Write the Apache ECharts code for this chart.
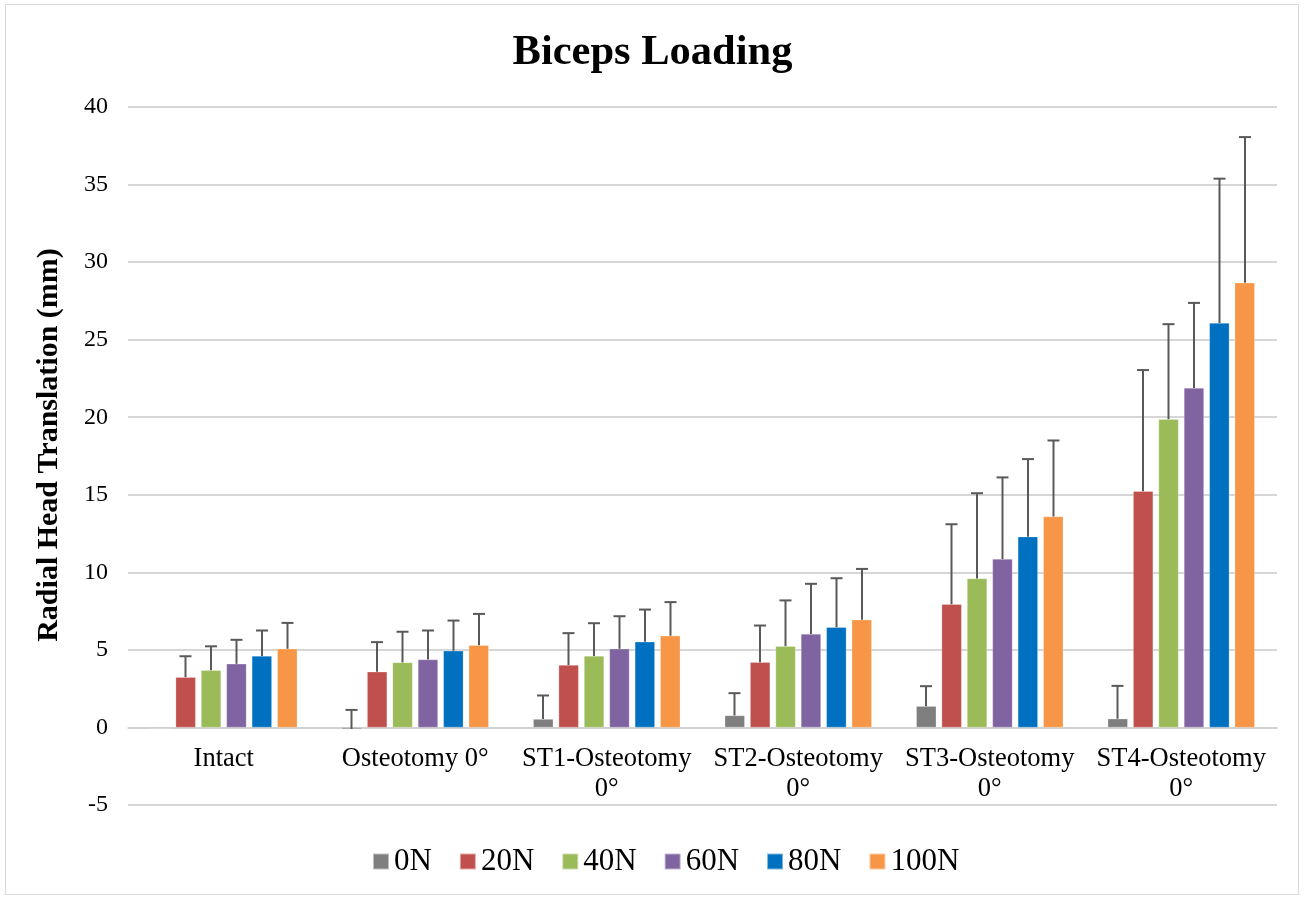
<!DOCTYPE html>
<html>
<head>
<meta charset="utf-8">
<script src="https://cdn.jsdelivr.net/npm/echarts@6/dist/echarts.min.js"></script>
<style>
  html, body { margin: 0; padding: 0; background: #fff; }
  #frame { position: absolute; left: 5px; top: 4px; width: 1294px; height: 891px; border: 1px solid #d9d9d9; box-sizing: border-box; }
  #chart { width: 1305px; height: 899px; }
</style>
</head>
<body>
<div id="frame"></div>
<div id="chart"></div>
<script>
// categories and loads
const categories = ['Intact', 'Osteotomy 0°', 'ST1-Osteotomy\n0°', 'ST2-Osteotomy\n0°', 'ST3-Osteotomy\n0°', 'ST4-Osteotomy\n0°'];
const loads = ['0N', '20N', '40N', '60N', '80N', '100N'];
const colors = ['#7F7F7F', '#C0504D', '#9BBB59', '#8064A2', '#0070C0', '#F79646'];

// mean translation (mm), one array per load
const mean0N   = [-0.05, -0.10, 0.54, 0.77, 1.37, 0.56];
const mean20N  = [3.24, 3.59, 4.02, 4.21, 7.94, 15.23];
const mean40N  = [3.68, 4.19, 4.61, 5.24, 9.60, 19.87];
const mean60N  = [4.10, 4.38, 5.07, 6.03, 10.86, 21.89];
const mean80N  = [4.61, 4.94, 5.52, 6.46, 12.30, 26.07];
const mean100N = [5.07, 5.30, 5.91, 6.95, 13.60, 28.67];

// top of error bar (mean + SD)
const err0N   = [-0.05, 1.13, 2.06, 2.21, 2.66, 2.68];
const err20N  = [4.59, 5.50, 6.08, 6.57, 13.10, 23.04];
const err40N  = [5.23, 6.17, 6.72, 8.19, 15.10, 26.00];
const err60N  = [5.65, 6.25, 7.17, 9.26, 16.12, 27.37];
const err80N  = [6.25, 6.89, 7.60, 9.62, 17.30, 35.38];
const err100N = [6.74, 7.32, 8.08, 10.22, 18.50, 38.06];

const yTicks = { min: -5, max: 40, interval: 5 };

const means = [mean0N, mean20N, mean40N, mean60N, mean80N, mean100N];
const errs = [err0N, err20N, err40N, err60N, err80N, err100N];

const barWidth = 20;
const barPitch = 25.5;
const font = '"Liberation Serif", "Times New Roman", serif';

const gridTop = 107, gridBottom = 94, height = 899;
// move the category axis up so it sits on y = 0
const plotH = height - gridTop - gridBottom;
const zeroOffset = -plotH * (0 - yTicks.min) / (yTicks.max - yTicks.min);

const chart = echarts.init(document.getElementById('chart'));

const series = [];
loads.forEach((name, i) => {
  series.push({
    name: name,
    type: 'bar',
    barWidth: barWidth,
    barGap: '27%',
    data: means[i],
    itemStyle: { color: colors[i], borderColor: 'rgba(255,255,255,0.5)', borderWidth: 0.5 },
    emphasis: { disabled: true }
  });
});
loads.forEach((name, i) => {
  series.push({
    name: name + ' err',
    type: 'custom',
    silent: true,
    z: 5,
    data: means[i].map((m, k) => [k, m, errs[i][k]]),
    renderItem: function (params, api) {
      const k = api.value(0);
      const lo = api.coord([k, api.value(1)]);
      const hi = api.coord([k, api.value(2)]);
      if (Math.abs(lo[1] - hi[1]) < 0.5) return null;
      const x = lo[0] + (i - 2.5) * barPitch;
      const style = { stroke: '#595959', lineWidth: 2 };
      return {
        type: 'group',
        children: [
          { type: 'line', shape: { x1: x, y1: lo[1], x2: x, y2: hi[1] }, style: style },
          { type: 'line', shape: { x1: x - 6, y1: hi[1], x2: x + 6, y2: hi[1] }, style: style }
        ]
      };
    }
  });
});

const option = {
  animation: false,
  backgroundColor: 'transparent',
  title: {
    text: 'Biceps Loading',
    left: 'center',
    top: 27,
    textStyle: { fontFamily: font, fontSize: 42.5, fontWeight: 'bold', color: '#000' }
  },
  legend: {
    data: loads,
    bottom: 17,
    left: 367,
    icon: 'rect',
    itemWidth: 16,
    itemHeight: 16,
    itemGap: 27,
    textStyle: { fontFamily: font, fontSize: 31, color: '#000' }
  },
  grid: { left: 128, right: 28, top: gridTop, bottom: gridBottom },
  xAxis: {
    type: 'category',
    data: categories,
    offset: zeroOffset,
    axisLine: { onZero: false, lineStyle: { color: '#d0d0d0', width: 1.5 } },
    axisTick: { show: false },
    axisLabel: { fontFamily: font, fontSize: 26.5, color: '#000', margin: 17, lineHeight: 30, interval: 0 }
  },
  yAxis: {
    type: 'value',
    min: yTicks.min,
    max: yTicks.max,
    interval: yTicks.interval,
    name: 'Radial Head Translation (mm)',
    nameLocation: 'middle',
    nameGap: 64,
    nameTextStyle: { fontFamily: font, fontSize: 30, fontWeight: 'bold', color: '#000', padding: [0, 0, 0, 22] },
    axisLine: { show: false },
    axisTick: { show: false },
    axisLabel: { fontFamily: font, fontSize: 24, color: '#000', margin: 20 },
    splitLine: { lineStyle: { color: '#c8c8c8', width: 1.5 } }
  },
  series: series
};

chart.setOption(option);
window.addEventListener('resize', () => chart.resize());
</script>
</body>
</html>
